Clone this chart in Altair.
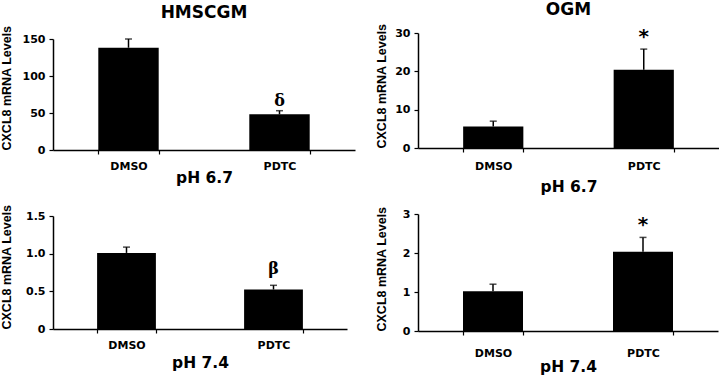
import altair as alt
import pandas as pd

categories = ["DMSO", "PDTC"]

tl_values = [138.2, 48.2]
tl_errors = [11.8, 4.9]
tl_marks = ["", "δ"]

tr_values = [5.6, 20.4]
tr_errors = [1.4, 5.4]
tr_marks = ["", "*"]

bl_values = [1.01, 0.524]
bl_errors = [0.077, 0.056]
bl_marks = ["", "β"]

br_values = [1.02, 2.03]
br_errors = [0.18, 0.37]
br_marks = ["", "*"]

tl_ticks = [0, 50, 100, 150]
tr_ticks = [0, 10, 20, 30]
bl_ticks = [0, 0.5, 1.0, 1.5]
br_ticks = [0, 1, 2, 3]

y_title = "CXCL8 mRNA Levels"
HFONT = "DejaVu Sans"


def panel(values, errors, marks, ticks, xtitle, w, h, title=None, top_gap=0,
          title_offset=10, ytitle_pad=8, yext=30, xtitle_pad=2, xlabel_pad=4,
          ann_font="DejaVu Serif", ann_size=16, ann_dy=-3, label_expr=None):
    df = pd.DataFrame({
        "cat": categories,
        "val": values,
        "err": errors,
        "ann": marks,
    })
    df["top"] = df["val"] + df["err"]
    yaxis_kw = dict(
        values=ticks, title=y_title, titleAnchor="start",
        titleFont="Liberation Sans", titleFontSize=12.5, titleFontWeight="bold",
        titlePadding=ytitle_pad, minExtent=yext, maxExtent=yext,
        labelFont=HFONT, labelFontSize=11, labelFontWeight="bold",
        labelColor="black", titleColor="black", grid=False,
        domainColor="black", domainWidth=1.5, tickColor="black",
        tickSize=4, tickWidth=1.2, labelPadding=4, labelOverlap=False,
    )
    if label_expr:
        yaxis_kw["labelExpr"] = label_expr
    yaxis = alt.Axis(**yaxis_kw)
    if top_gap:
        yscale = alt.Scale(domain=[ticks[0], ticks[-1]], nice=False, zero=True,
                           range=[h, top_gap])
    else:
        yscale = alt.Scale(domain=[ticks[0], ticks[-1]], nice=False, zero=True)
    x = alt.X("cat:N", sort=categories,
              scale=alt.Scale(paddingInner=0.6, paddingOuter=0.3),
              axis=alt.Axis(title=xtitle, labelAngle=0, tickBand="extent",
                            labelFont=HFONT, labelFontSize=11, labelFontWeight="bold",
                            labelColor="black", titleColor="black",
                            titleFont=HFONT, titleFontSize=15.5, titleFontWeight="bold",
                            titlePadding=xtitle_pad, domainColor="black",
                            domainWidth=1.5, tickColor="black", tickSize=4,
                            tickWidth=1.2, labelPadding=xlabel_pad, grid=False))
    base = alt.Chart(df)
    bars = base.mark_bar(color="black").encode(
        x=x, y=alt.Y("val:Q", scale=yscale, axis=yaxis, title=y_title))
    rule = base.mark_rule(color="black", strokeWidth=1.5).encode(
        x=x, y=alt.Y("val:Q", scale=yscale, axis=yaxis, title=y_title), y2="top:Q")
    cap = base.mark_tick(color="black", thickness=1.5, size=7).encode(
        x=x, y=alt.Y("top:Q", scale=yscale, axis=yaxis, title=y_title))
    txt = base.mark_text(font=ann_font, fontSize=ann_size, fontWeight="bold",
                         baseline="bottom", dy=ann_dy, color="black").encode(
        x=x, y=alt.Y("top:Q", scale=yscale, axis=yaxis, title=y_title), text="ann:N")
    props = dict(width=w, height=h)
    if title:
        props["title"] = alt.TitleParams(text=title, font=HFONT, fontSize=17,
                                         fontWeight="bold", color="black",
                                         offset=title_offset, anchor="middle")
    return alt.layer(bars, rule, cap, txt).properties(**props)


fmt1 = "datum.value == 0 ? '0' : format(datum.value, '.1f')"

tl = panel(tl_values, tl_errors, tl_marks, tl_ticks, "pH 6.7", 302, 117,
           top_gap=6, title="HMSCGM", title_offset=-1, ytitle_pad=9, yext=31,
           xlabel_pad=6, xtitle_pad=-1,
           ann_font="DejaVu Serif", ann_size=16, ann_dy=-2)
bl = panel(bl_values, bl_errors, bl_marks, bl_ticks, "pH 7.4", 294, 113,
           ytitle_pad=9, yext=31, xlabel_pad=6, xtitle_pad=5,
           ann_font="DejaVu Serif", ann_size=16, ann_dy=-8, label_expr=fmt1)
tr = panel(tr_values, tr_errors, tr_marks, tr_ticks, "pH 6.7", 301, 115,
           title="OGM", title_offset=4, ytitle_pad=6, yext=24,
           xlabel_pad=8, xtitle_pad=8,
           ann_font="DejaVu Sans", ann_size=20, ann_dy=-2)
br = panel(br_values, br_errors, br_marks, br_ticks, "pH 7.4", 300, 117,
           ytitle_pad=6, yext=24, xlabel_pad=12, xtitle_pad=1,
           ann_font="DejaVu Sans", ann_size=20, ann_dy=-2)

chart = alt.hconcat(
    alt.vconcat(tl, bl, spacing=17),
    alt.vconcat(tr, br, spacing=10),
    spacing=20,
).configure_view(stroke=None).properties(
    padding={"left": 0, "top": 0, "right": 0, "bottom": 0},
    background="white",
)

chart.save("out.html", embed_options={"renderer": "svg", "actions": False})
